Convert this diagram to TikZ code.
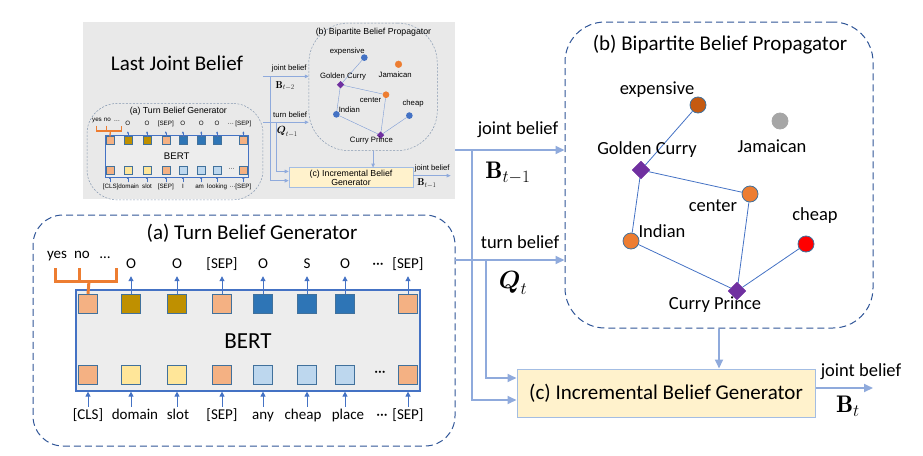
\documentclass[tikz,border=0pt]{standalone}
\usepackage{amsmath}
\usepackage{fontspec}
\newfontfamily\calibri{Carlito}
\newfontfamily\arial{Liberation Sans}
\usetikzlibrary{arrows.meta,shapes.geometric}
\definecolor{dashblue}{HTML}{2F5597}
\definecolor{thumbdash}{HTML}{8497B0}
\definecolor{bertblue}{HTML}{4472C4}
\definecolor{sqborder}{HTML}{41719C}
\definecolor{salm}{HTML}{F4B183}
\definecolor{gold}{HTML}{BF9000}
\definecolor{dblue}{HTML}{2E75B6}
\definecolor{yel}{HTML}{FFE699}
\definecolor{lblue}{HTML}{BDD7EE}
\definecolor{flowc}{HTML}{8FAADC}
\definecolor{incfill}{HTML}{FFF2CC}
\definecolor{incborder}{HTML}{A3BDE3}
\definecolor{orng}{HTML}{ED7D31}
\definecolor{dorng}{HTML}{C55A11}
\definecolor{jgray}{HTML}{A6A6A6}
\definecolor{purp}{HTML}{7030A0}
\definecolor{bertfill}{HTML}{EDEDED}
\definecolor{thumbbg}{HTML}{E9E9E9}
\definecolor{redc}{HTML}{FF0000}

\tikzset{
 dashbox/.style={draw=dashblue, dash pattern=on 7pt off 4pt, line width=1pt},
 bertbox/.style={draw=bertblue, fill=bertfill, line width=1.2pt},
 sq/.style={draw=sqborder, line width=0.8pt, minimum size=19pt, inner sep=0},
 tokarr/.style={draw=bertblue, line width=1pt, -{Triangle[length=5pt,width=5pt]}},
 flow/.style={draw=flowc, line width=1.8pt, -{Triangle[length=9pt,width=8pt]}},
 brk/.style={draw=orng, line width=3pt},
 gcirc/.style={circle, draw=sqborder, line width=0.8pt, minimum size=16pt, inner sep=0},
 gdiam/.style={diamond, fill=purp, draw=purp, minimum size=18pt, inner sep=0},
 gedge/.style={draw=bertblue, line width=0.8pt},
 incbox/.style={draw=incborder, fill=incfill, line width=1pt},
 titlef/.style={font=\modelfont\fontsize{21}{25}\selectfont, inner sep=0},
 bertf/.style={font=\modelfont\fontsize{23}{27}\selectfont, inner sep=0},
 tokf/.style={font=\modelfont\fontsize{15}{18}\selectfont, inner sep=0, text height=10.5pt, text depth=3.5pt},
 glabf/.style={font=\modelfont\fontsize{18.5}{22}\selectfont, inner sep=0, text height=13.3pt, text depth=4pt},
 flowf/.style={font=\modelfont\fontsize{18.5}{22}\selectfont, inner sep=0},
 mathf/.style={font=\fontsize{24}{28}\selectfont, inner sep=0},
}

\newcommand\drawmodel{%
 % ---------- (a) Turn Belief Generator ----------
 \node[dashbox, minimum width=422pt, minimum height=231pt, rounded corners=30pt] (tg) at (244,330.5) {};
 \node[titlef] (tgt) at (252,233) {(a) Turn Belief Generator};
 \node[bertbox, minimum width=344pt, minimum height=101pt] (bert) at (248,340.5) {};
 \node[bertf] (bertl) at (248,341) {BERT};
 \foreach \x/\ct/\cb [count=\i] in {88/salm/salm,131/gold/yel,177/gold/yel,222/salm/salm,263/dblue/lblue,307/dblue/lblue,345/dblue/lblue,408/salm/salm}{
   \node[sq, fill=\ct] (sqt\i) at (\x,304) {};
   \node[sq, fill=\cb] (sqb\i) at (\x,375) {};
 }
 \node[tokf] (mdots) at (380,373) {···};
 \foreach \x/\lab [count=\i from 2] in \topList{
   \node[tokf] (lt\i) at (\x,265) {\lab};
   \draw[tokarr, shorten >=4pt] (sqt\i.north) -- (sqt\i |- lt\i.south);
 }
 \node[tokf] (tdots) at (378,265) {···};
 \foreach \x/\lab [count=\i] in \botList{
   \node[tokf] (lb\i) at (\x,416) {\lab};
   \draw[tokarr, shorten <=2pt] (sqb\i |- lb\i.north) -- (sqb\i |- bert.south);
 }
 \node[tokf] (bdots) at (382,416) {···};
 \node[tokf] (yes) at (57,255) {yes};
 \node[tokf] (no) at (82,255) {no};
 \node[tokf] (ell) at (105,255) {\ldots};
 \draw[brk] (55,268) -- (55,281) -- (116,281) -- (116,268);
 \draw[brk] (79,268) -- (79,281);
 \draw[brk] (89,281) -- (sqt1.north);
 % ---------- (b) Bipartite Belief Propagator ----------
 \node[dashbox, minimum width=308pt, minimum height=306pt, rounded corners=40pt] (bp) at (719,175) {};
 \node[titlef] (bpt) at (720,45) {(b) Bipartite Belief Propagator};
 \node[gcirc, fill=\cExp] (exp) at (698,105) {};
 \node[gcirc, fill=\cJam, draw=\cJam] (jam) at (780,121) {};
 \node[gdiam] (gc) at (641,170) {};
 \node[gcirc, fill=\cCen] (cen) at (750,194) {};
 \node[gcirc, fill=\cChe] (che) at (806,244) {};
 \node[gcirc, fill=\cInd] (ind) at (631,241) {};
 \node[gdiam] (cp) at (737,291) {};
 \draw[gedge] (exp) -- (gc);
 \draw[gedge] (gc) -- (cen);
 \draw[gedge] (gc) -- (ind);
 \draw[gedge] (ind) -- (cp);
 \draw[gedge] (cen) -- (cp);
 \draw[gedge] (che) -- (cp);
 \node[glabf] (lexp) at (657,90) {expensive};
 \node[glabf] (ljam) at (772,148) {Jamaican};
 \node[glabf] (lgc) at (647,150) {Golden Curry};
 \node[glabf] (lcen) at (713,207) {center};
 \node[glabf] (lche) at (815,216) {cheap};
 \node[glabf] (lind) at (662,233) {Indian};
 \node[glabf] (lcp) at (715,305) {Curry Prince};
 % ---------- (c) Incremental Belief Generator ----------
 \node[incbox, minimum width=298pt, minimum height=48pt, align=center, font=\modelfont\fontsize{21}{23}\selectfont] (inc) at (666,393) {\incText};
 % ---------- connectors ----------
 \coordinate (jbs) at (455,150);
 \coordinate (tbs) at (455,260);
 \coordinate (jbv) at (472,150);
 \coordinate (tbv) at (486,260);
 \draw[flow] (jbs) -- (jbs -| bp.west);
 \draw[flow] (tbs) -- (tbs -| bp.west);
 \draw[flow] (jbv) |- (inc.west |- 0,400);
 \draw[flow] (tbv) |- (inc.west |- 0,378);
 \draw[flow] (bp.south) -- (bp.south |- inc.north);
 \coordinate (outend) at (\outEnd,388);
 \draw[flow] (inc.east |- outend) -- (outend);
 \node[flowf] (jbl) at (518,130) {joint belief};
 \node[mathf] (jbm) at (508,173) {$\mathbf{B}_{\jbSub}$};
 \node[flowf] (tbl) at (520,242) {turn belief};
 \node[mathf] (tbm) at (513,283) {$\boldsymbol{Q}_{\tbSub}$};
 \node[flowf] (outl) at (861,372) {joint belief};
 \node[mathf] (outm) at (848,406) {$\mathbf{B}_{\outSub}$};
}

\begin{document}
\begin{tikzpicture}[x=1pt,y=-1pt]
\useasboundingbox (0,0) rectangle (923,455);
% thumbnail of the previous step
\node[fill=thumbbg, minimum width=372pt, minimum height=177pt, inner sep=0] (thumb) at (269,110.5) {};
\node[font=\calibri\fontsize{21}{25}\selectfont, inner sep=0] (ljb) at (177,63) {Last Joint Belief};
\begin{scope}[shift={(73.24,13.83)}, scale=0.417, transform shape]
 \def\modelfont{\arial}
 \def\topList{131/O,177/O,222/[SEP],263/O,307/O,345/O,408/[SEP]}
 \def\botList{90/[CLS],133/domain,177/slot,222/[SEP],263/I,303/am,345/looking,408/[SEP]}
 \def\cExp{bertblue}\def\cJam{orng}\def\cCen{orng}\def\cChe{bertblue}\def\cInd{bertblue}
 \def\incText{(c) Incremental Belief\\Generator}
 \def\jbSub{t-2}\def\tbSub{t-1}\def\outSub{t-1}\def\outEnd{905}
 \tikzset{
  dashbox/.style={draw=thumbdash, dash pattern=on 2pt off 1.5pt, line width=0.5pt},
  bertbox/.style={draw=bertblue, fill=bertfill, line width=0.5pt},
  sq/.style={draw=sqborder, line width=0.3pt, minimum size=19pt, inner sep=0},
  tokarr/.style={draw=bertblue, line width=0.4pt, -{Triangle[length=2pt,width=2pt]}},
  flow/.style={draw=flowc, line width=0.8pt, -{Triangle[length=4pt,width=3.5pt]}},
  brk/.style={draw=orng, line width=1.3pt},
  gcirc/.style={circle, draw=none, minimum size=16pt, inner sep=0},
  gdiam/.style={diamond, fill=purp, minimum size=18pt, inner sep=0},
  gedge/.style={draw=bertblue!70, line width=0.4pt},
  incbox/.style={draw=incborder, fill=incfill, line width=0.5pt},
 }
 \drawmodel
\end{scope}
% current step
\def\modelfont{\calibri}
\def\topList{131/O,177/O,222/[SEP],263/O,307/S,345/O,408/[SEP]}
\def\botList{88/[CLS],135/domain,178/slot,222/[SEP],263/any,303/cheap,348/place,408/[SEP]}
\def\cExp{dorng}\def\cJam{jgray}\def\cCen{orng}\def\cChe{redc}\def\cInd{orng}
\def\incText{(c) Incremental Belief Generator}
\def\jbSub{t-1}\def\tbSub{t}\def\outSub{t}\def\outEnd{873}
\drawmodel
\end{tikzpicture}
\end{document}
